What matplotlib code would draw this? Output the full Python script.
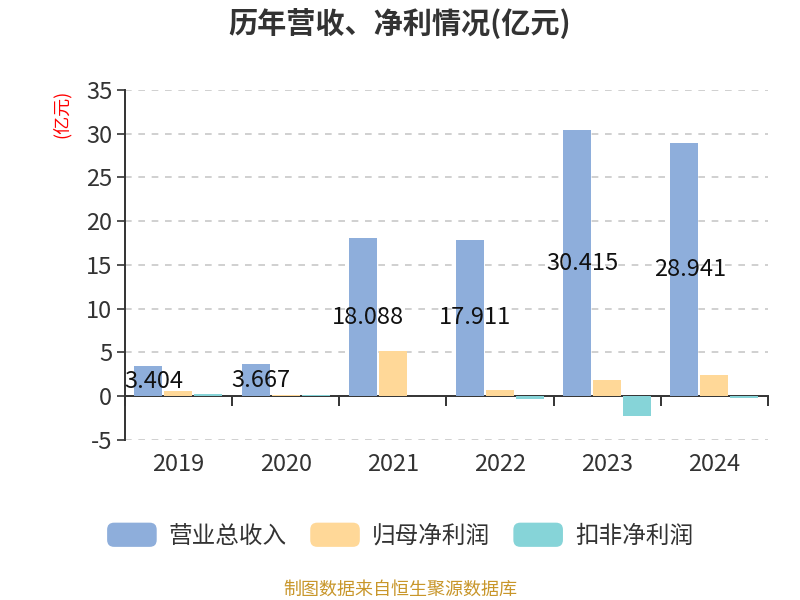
import matplotlib
matplotlib.use("Agg")
import matplotlib.pyplot as plt
import numpy as np
from matplotlib.patches import FancyBboxPatch, Patch
from matplotlib.legend_handler import HandlerPatch

plt.rcParams['font.family'] = ['Noto Sans CJK SC', 'DejaVu Sans']
plt.rcParams['axes.unicode_minus'] = False

years = ['2019', '2020', '2021', '2022', '2023', '2024']
revenue = [3.404, 3.667, 18.088, 17.911, 30.415, 28.941]
net_profit = [0.6, 0.1, 5.15, 0.7, 1.83, 2.48]
deducted_profit = [0.2, 0.1, 0.03, -0.35, -2.3, -0.25]
series_names = ['营业总收入', '归母净利润', '扣非净利润']
colors = ['#8eaedb', '#ffd898', '#86d4d8']

fig = plt.figure(figsize=(8, 6), dpi=100)
ax = fig.add_axes([0.156, 0.2667, 0.804, 0.5833])

x = np.arange(len(years))
w = 0.26
offs = [-0.28, 0.0, 0.28]
for vals, off, c in zip([revenue, net_profit, deducted_profit], offs, colors):
    ax.bar(x + off, vals, width=w, color=c, zorder=3)

for xi, v in zip(x, revenue):
    ax.text(xi + offs[0] + 0.05, v / 2, f'{v:.3f}', ha='center', va='center',
            fontsize=17, color='#111111', zorder=5)

ax.set_ylim(-5, 35)
ax.set_xlim(-0.5, len(years) - 0.5)
ax.set_yticks(np.arange(-5, 36, 5))
ax.yaxis.grid(True, linestyle=(0, (4, 4)), color='#c8c8c8', linewidth=1.2, zorder=0)
ax.tick_params(axis='y', direction='out', length=6, width=1.2, color='#333333',
               labelsize=17, labelcolor='#333333', pad=3)

ax.spines['top'].set_visible(False)
ax.spines['right'].set_visible(False)
ax.spines['left'].set_color('#333333')
ax.spines['left'].set_linewidth(1.4)
ax.spines['bottom'].set_position(('data', 0))
ax.spines['bottom'].set_color('#333333')
ax.spines['bottom'].set_linewidth(1.4)

ax.set_xticks(x)
ax.set_xticklabels(years)
ax.set_xticks(np.arange(-0.5, len(years), 1.0), minor=True)
ax.tick_params(axis='x', which='major', length=0, pad=41, labelsize=17, labelcolor='#333333')
ax.tick_params(axis='x', which='minor', direction='out', length=7, width=1.4, color='#333333')

fig.text(0.077, 0.81, '(亿元)', rotation=90, color='red', fontsize=13, ha='center', va='center')
fig.text(0.5, 0.962, '历年营收、净利情况(亿元)', fontsize=21, fontweight='bold',
         color='#333333', ha='center', va='center')


class RoundHandler(HandlerPatch):
    def create_artists(self, legend, orig_handle, xdescent, ydescent, width, height, fontsize, trans):
        p = FancyBboxPatch((-xdescent, -ydescent), width, height,
                           boxstyle='round,pad=0,rounding_size=5',
                           facecolor=orig_handle.get_facecolor(), edgecolor='none',
                           transform=trans)
        return [p]


handles = [Patch(facecolor=c, label=n) for c, n in zip(colors, series_names)]
fig.legend(handles=handles, loc='center', bbox_to_anchor=(0.5, 0.108), ncol=3,
           frameon=False, fontsize=17, handlelength=2.1, handleheight=1.2,
           handletextpad=0.5, columnspacing=1.0,
           handler_map={Patch: RoundHandler()}, labelcolor='#333333')

fig.text(0.5, 0.017, '制图数据来自恒生聚源数据库', color='#c8962a', fontsize=13,
         ha='center', va='center')

fig.savefig('out.png', dpi=100)
